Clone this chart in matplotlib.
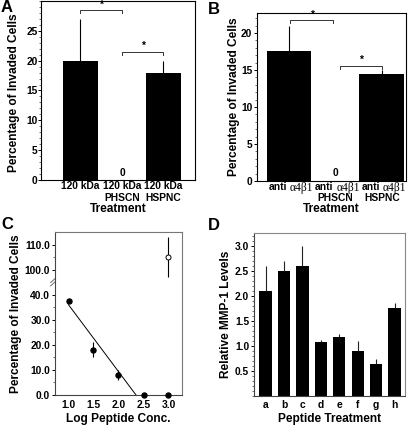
import matplotlib
matplotlib.use('Agg')
import matplotlib.pyplot as plt
from matplotlib.ticker import MultipleLocator, FixedLocator
from matplotlib.transforms import blended_transform_factory

# ---------------- data ----------------
# Panel A
a_labels = ['120 kDa', '120 kDa\nPHSCN', '120 kDa\nHSPNC']
a_values = [20.0, 0.0, 18.0]
a_err = [7.0, 0.0, 2.0]
a_sig = [(0, 1, 28.5), (1, 2, 21.5)]
a_yticks = [0, 5, 10, 15, 20, 25]

# Panel B
b_word = 'anti'
b_greek = 'α4β1'
b_second = ['', 'PHSCN', 'HSPNC']
b_values = [17.5, 0.0, 14.5]
b_err = [3.5, 0.0, 0.5]
b_sig = [(0.03, 0.95, 21.7), (1.1, 2.0, 15.6)]
b_yticks = [0, 5, 10, 15, 20]

# Panel C
c_x = [1.0, 1.5, 2.0, 2.5, 3.0]
c_y = [37.5, 18.0, 7.8, 0.0, 0.0]
c_err = [0.0, 3.0, 2.0, 0.0, 0.0]
c_open_x = [3.0]
c_open_y = [105.0]
c_open_err = [8.0]
c_fit_x = [1.0, 2.35]
c_fit_y = [36.0, 0.0]
c_xticks = [1.0, 1.5, 2.0, 2.5, 3.0]
c_yticks = [0, 10, 20, 30, 40, 100, 110]
c_break_offset = 50.0  # values above the axis break are shifted down by this

# Panel D
d_labels = ['a', 'b', 'c', 'd', 'e', 'f', 'g', 'h']
d_values = [2.1, 2.5, 2.6, 1.08, 1.18, 0.9, 0.63, 1.75]
d_err = [0.5, 0.2, 0.4, 0.03, 0.05, 0.2, 0.1, 0.1]
d_yticks = [0.5, 1.0, 1.5, 2.0, 2.5, 3.0]

# ---------------- style ----------------
plt.rcParams['font.family'] = ['Liberation Sans', 'DejaVu Sans']
plt.rcParams['font.weight'] = 'bold'
plt.rcParams['axes.labelweight'] = 'bold'

W, H = 412, 426
fig = plt.figure(figsize=(W / 100, H / 100), dpi=100)
fig.patch.set_facecolor('white')

TICK_FS = 7.4
LAB_FS = 8.6
LETTER_FS = 12


def px_axes(l, t, r, b):
    return fig.add_axes([l / W, 1 - b / H, (r - l) / W, (b - t) / H])


def style_axes(ax, color='black', ypad=0.5, xpad=2):
    for s in ax.spines.values():
        s.set_color(color)
        s.set_linewidth(0.8)
    ax.tick_params(axis='y', direction='out', length=2.0, width=0.7, labelsize=TICK_FS, pad=ypad, color='black')
    ax.tick_params(axis='y', which='minor', direction='out', length=1.3, width=0.6, color='#555555')
    ax.tick_params(axis='x', length=0, labelsize=TICK_FS, pad=xpad)


def bracket(ax, x1, x2, y, h):
    ax.plot([x1, x1, x2, x2], [y - h, y, y, y - h], color='#333333', lw=0.7)
    ax.text((x1 + x2) / 2, y + h * 0.2, '*', ha='center', va='bottom', fontsize=7.5, fontweight='bold')


# ---------------- Panel A ----------------
axA = px_axes(41, 1, 195, 180)
xa = list(range(len(a_values)))
axA.bar(xa, a_values, width=0.86, color='black')
axA.errorbar(xa, a_values, yerr=[[0] * len(a_err), a_err], fmt='none', ecolor='black', elinewidth=0.8, capsize=0)
axA.set_xlim(-0.95, 2.76)
axA.set_ylim(0, 30)
axA.set_xticks(xa)
axA.set_xticklabels(a_labels, linespacing=1.15)
axA.set_yticks(a_yticks)
axA.yaxis.set_minor_locator(MultipleLocator(1))
style_axes(axA, ypad=0.5, xpad=1)
axA.set_ylabel('Percentage of Invaded Cells', fontsize=LAB_FS, labelpad=2)
axA.yaxis.set_label_coords(-0.135, 0.49)
axA.set_xlabel('Treatment', fontsize=LAB_FS, labelpad=0)
for x1, x2, y in a_sig:
    bracket(axA, x1, x2, y, 0.5)
axA.text(1, 0.4, '0', ha='center', va='bottom', fontsize=TICK_FS, fontweight='bold')
fig.text(1 / W, 1 - 0 / H, 'A', fontsize=LETTER_FS, fontweight='bold', va='top', ha='left')

# ---------------- Panel B ----------------
axB = px_axes(257, 13, 406, 181)
xb = list(range(len(b_values)))
axB.bar(xb, b_values, width=0.965, color='black')
axB.errorbar(xb, b_values, yerr=[[0] * len(b_err), b_err], fmt='none', ecolor='black', elinewidth=0.8, capsize=0)
axB.set_xlim(-0.69, 2.52)
axB.set_ylim(0, 22.7)
axB.set_xticks(xb)
axB.set_xticklabels([''] * len(xb))
axB.set_yticks(b_yticks)
axB.yaxis.set_minor_locator(MultipleLocator(1))
style_axes(axB, ypad=1.5, xpad=1)
axB.set_ylabel('Percentage of Invaded Cells', fontsize=LAB_FS, labelpad=1)
axB.set_xlabel('Treatment', fontsize=LAB_FS, labelpad=15)
trB = blended_transform_factory(axB.transData, axB.transAxes)
for xi, second in zip(xb, b_second):
    axB.annotate(b_word, xy=(xi, 0), xycoords=trB, xytext=(-1.3, -0.8), textcoords='offset points',
                 ha='right', va='top', fontsize=TICK_FS, fontweight='bold', annotation_clip=False)
    axB.annotate(b_greek, xy=(xi, 0), xycoords=trB, xytext=(0.6, -0.6), textcoords='offset points',
                 ha='left', va='top', fontsize=8.3, fontweight='normal', family='Liberation Serif',
                 annotation_clip=False)
    if second:
        axB.annotate(second, xy=(xi, 0), xycoords=trB, xytext=(0, -8.6), textcoords='offset points',
                     ha='center', va='top', fontsize=TICK_FS, fontweight='bold', annotation_clip=False)
for x1, x2, y in b_sig:
    bracket(axB, x1, x2, y, 0.4)
axB.text(1, 0.35, '0', ha='center', va='bottom', fontsize=TICK_FS, fontweight='bold')
fig.text(208 / W, 1 - 2 / H, 'B', fontsize=LETTER_FS, fontweight='bold', va='top', ha='left')

# ---------------- Panel C ----------------
axC = px_axes(55, 232, 182, 395)


def c_map(v):
    return v - c_break_offset if v > 45 else v


axC.errorbar(c_x, c_y, yerr=c_err, fmt='o', color='black', ms=3.6, elinewidth=0.8, capsize=0, zorder=3, clip_on=False)
axC.errorbar(c_open_x, [c_map(v) for v in c_open_y], yerr=c_open_err, fmt='o', mfc='white', mec='black',
             ecolor='black', ms=3.6, mew=0.7, elinewidth=0.8, capsize=0, zorder=3)
axC.plot(c_fit_x, c_fit_y, color='black', lw=0.7)
axC.set_xlim(0.73, 3.27)
axC.set_ylim(0, 65)
axC.set_xticks(c_xticks)
axC.set_xticklabels(['%.1f' % v for v in c_xticks])
axC.set_yticks([c_map(v) for v in c_yticks])
axC.set_yticklabels(['%.1f' % v for v in c_yticks])
axC.yaxis.set_minor_locator(FixedLocator([5, 15, 25, 35, 55]))
style_axes(axC, color='#777777', ypad=1.5, xpad=3.5)
axC.spines['left'].set_color('#444444')
axC.spines['bottom'].set_color('#444444')
axC.set_ylabel('Percentage of Invaded Cells', fontsize=LAB_FS, labelpad=2)
axC.set_xlabel('Log Peptide Conc.', fontsize=LAB_FS, labelpad=2)
trC = blended_transform_factory(axC.transAxes, axC.transData)
for yy in (44.3, 45.6):
    axC.plot([-0.035, 0.0], [yy - 0.8, yy + 0.8], color='#555555', lw=0.6, transform=trC, clip_on=False)
fig.text(1 / W, 1 - 217 / H, 'C', fontsize=LETTER_FS, fontweight='bold', va='top', ha='left')

# ---------------- Panel D ----------------
axD = px_axes(254, 233, 405, 396)
xd = list(range(len(d_values)))
axD.bar(xd, d_values, width=0.67, color='black')
axD.errorbar(xd, d_values, yerr=[[0] * len(d_err), d_err], fmt='none', ecolor='#222222', elinewidth=0.8, capsize=0)
axD.set_xlim(-0.63, 7.57)
axD.set_ylim(0, 3.25)
axD.set_xticks(xd)
axD.set_xticklabels(d_labels)
axD.set_yticks(d_yticks)
axD.set_yticklabels(['%.1f' % v for v in d_yticks])
axD.yaxis.set_minor_locator(MultipleLocator(0.1))
style_axes(axD, color='#888888', ypad=1.5, xpad=3)
axD.spines['left'].set_color('#444444')
axD.spines['bottom'].set_color('#444444')
axD.set_ylabel('Relative MMP-1 Levels', fontsize=LAB_FS, labelpad=2)
axD.set_xlabel('Peptide Treatment', fontsize=LAB_FS, labelpad=2)
fig.text(208 / W, 1 - 218 / H, 'D', fontsize=LETTER_FS, fontweight='bold', va='top', ha='left')

fig.savefig('out.png', dpi=100, facecolor='white')
